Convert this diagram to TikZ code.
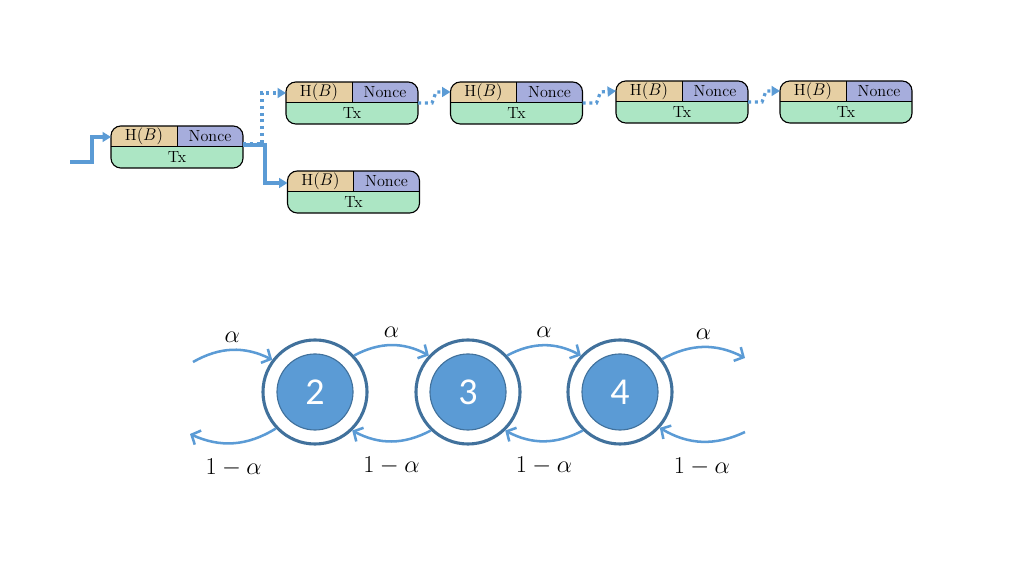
\documentclass[tikz,border=0pt]{standalone}
\usepackage{amsmath}
\usepackage{fontspec}
\newfontfamily\statefont{Carlito}
\usetikzlibrary{positioning,arrows.meta,calc}
\definecolor{hashtan}{RGB}{230,207,163}
\definecolor{noncebl}{RGB}{166,173,220}
\definecolor{txgreen}{RGB}{172,230,196}
\definecolor{linkblue}{RGB}{91,155,213}
\definecolor{ringblue}{RGB}{65,113,156}

% one block of the chain: name, x, y
\newcommand{\chainblock}[3]{%
  \node[blockframe] (#1) at (#2,#3) {};
  \begin{scope}
    \clip[rounded corners=7pt] (#1.south west) rectangle (#1.north east);
    \fill[txgreen] (#1.south west) rectangle (#1.east);
    \fill[hashtan] (#1.west) rectangle (#1.north);
    \fill[noncebl] (#1.center) rectangle (#1.north east);
  \end{scope}
  \draw[line width=0.7pt] (#1.west) -- (#1.east);
  \draw[line width=0.7pt] (#1.center) -- (#1.north);
  \draw[rounded corners=7pt, line width=0.8pt] (#1.south west) rectangle (#1.north east);
  \node[celltext] (#1-h) at ($(#1.west)!0.5!(#1.north)$) {H$(B)$};
  \node[celltext] (#1-n) at ($(#1.north east)!0.5!(#1.center)$) {Nonce};
  \node[celltext] (#1-t) at ($(#1.south)!0.5!(#1.center)$) {Tx};
}

\begin{document}
\begin{tikzpicture}[
    x=0.025cm, y=0.025cm,
    blockframe/.style={minimum width=3.3cm, minimum height=1.05cm, inner sep=0pt, outer sep=0pt},
    celltext/.style={font=\fontsize{11.5}{13}\selectfont, inner sep=0pt},
    feed/.style={line width=2.3pt, linkblue, -{Triangle[length=6pt,width=7pt]}},
    chainlink/.style={line width=2.3pt, linkblue, dash pattern=on 2.2pt off 2.6pt, -{Triangle[length=6pt,width=7pt]}},
    staterim/.style={circle, draw=ringblue, line width=2.2pt, minimum size=2.6cm, inner sep=0pt},
    statecore/.style={circle, fill=linkblue, draw=ringblue, line width=0.8pt, minimum size=1.9cm, inner sep=0pt, text=white, font=\statefont\fontsize{27}{30}\selectfont},
    trans/.style={line width=1.8pt, linkblue, -{Straight Barb[length=5pt,width=11pt]}},
    lbl/.style={font=\LARGE, text=black}
]
\useasboundingbox (0,0) rectangle (1024,576);

% blockchain with fork
\chainblock{b1}{177}{429}
\chainblock{b2}{352}{473}
\chainblock{b3}{516.5}{473}
\chainblock{b4}{682}{474}
\chainblock{b5}{846}{474}
\chainblock{b6}{353.5}{384}

\coordinate (in) at (70,414);
\draw[feed] (in) -- ++(22,0) |- ($(b1.west)+(0,10)$);
\draw[feed] ($(b1.east)+(0,2)$) -- ++(22,0) |- ($(b6.west)+(0,9)$);
\draw[chainlink] ($(b1.east)+(0,3)$) -- ++(19,0) |- ($(b2.west)+(0,10)$);
\draw[chainlink] (b2.east) -- ++(14,0) -- ++(4,11) -- ($(b3.west)+(0,11)$);
\draw[chainlink] (b3.east) -- ++(14,0) -- ++(4,11) -- ($(b4.west)+(0,11)$);
\draw[chainlink] (b4.east) -- ++(14,0) -- ++(4,11) -- ($(b5.west)+(0,11)$);

% states
\node[staterim] (s2) at (315,184) {};
\node[staterim] (s3) at (468,184) {};
\node[staterim] (s4) at (620,184) {};
\node[statecore] (s2in) at (s2) {2};
\node[statecore] (s3in) at (s3) {3};
\node[statecore] (s4in) at (s4) {4};

\coordinate (lt) at (193,214);
\coordinate (lb) at (190,142);
\coordinate (rt) at (745,218);
\coordinate (rb) at (745,144);

% transitions
\draw[trans] (lt) to[bend left=28] node[lbl, above=1pt] {$\alpha$} (s2.143);
\draw[trans] (s2.43) to[bend left=28] node[lbl, above=1pt] {$\alpha$} (s3.137);
\draw[trans] (s3.43) to[bend left=28] node[lbl, above=1pt] {$\alpha$} (s4.137);
\draw[trans] (s4.38) to[bend left=28] node[lbl, above=1pt] {$\alpha$} (rt);

\draw[trans] (s2.223) to[bend left=28] node[lbl, below=7pt] {$1-\alpha$} (lb);
\draw[trans] (s3.226) to[bend left=28] node[lbl, below=7pt] {$1-\alpha$} (s2.314);
\draw[trans] (s4.226) to[bend left=28] node[lbl, below=7pt] {$1-\alpha$} (s3.314);
\draw[trans] (rb) to[bend left=28] node[lbl, below=7pt] {$1-\alpha$} (s4.318);

\end{tikzpicture}
\end{document}
